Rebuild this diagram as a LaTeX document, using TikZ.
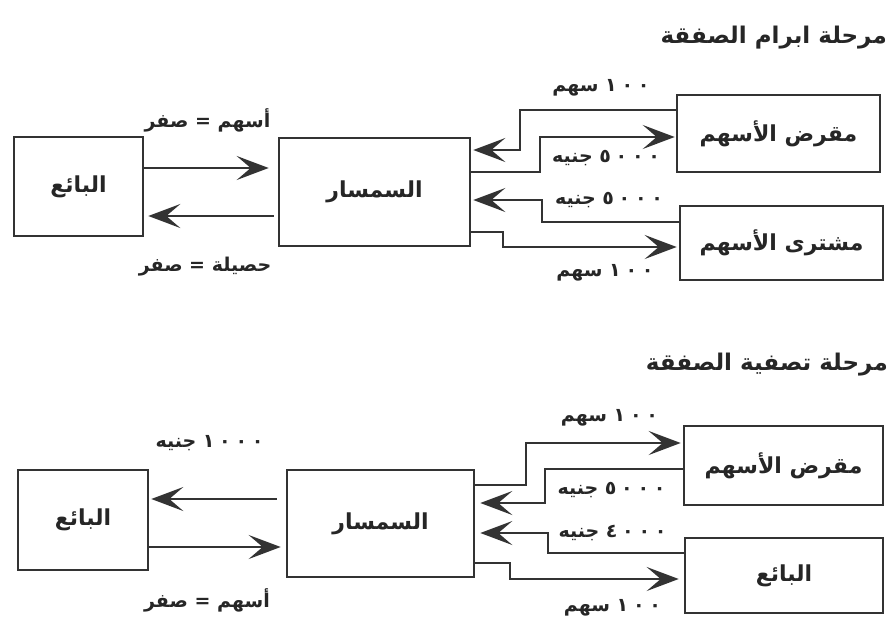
\documentclass[tikz,border=0pt]{standalone}
\usepackage{fontspec}
\TeXXeTstate=1
\newfontfamily\arabicfont[Script=Arabic]{DejaVu Sans}
\usetikzlibrary{arrows.meta}
\definecolor{ink}{HTML}{333333}
\definecolor{txt}{HTML}{262626}
\newcommand{\artxt}[1]{\beginR #1\endR}
\newcommand{\dg}[1]{{\addfontfeature{LetterSpace=25}#1}}
\begin{document}
\begin{tikzpicture}[x=1pt,y=-1pt,
  box/.style={draw=ink, line width=2.6pt, inner sep=0pt, text=txt,
    font=\arabicfont\bfseries\fontsize{22}{26}\selectfont},
  lbl/.style={inner sep=0pt, text=txt, font=\arabicfont\bfseries\fontsize{19}{22}\selectfont},
  ttl/.style={inner sep=0pt, text=txt, anchor=east, font=\arabicfont\bfseries\fontsize{23}{27}\selectfont},
  arr/.style={draw=ink, line width=2.5pt, line join=miter,
    arrows={-Stealth[length=32pt,width=24pt,inset=14pt]}}]
\useasboundingbox (0,0) rectangle (890,618);
\fill[white] (0,0) rectangle (890,618);

% ---------- top: مرحلة ابرام الصفقة ----------
\node[ttl] (t1) at (887,38) {\artxt{مرحلة ابرام الصفقة}};

\node[box, minimum width=129pt, minimum height=99pt] (S1) at (78.5,186.5) {\artxt{البائع}};
\node[box, minimum width=191pt, minimum height=108pt] (B1) at (374.5,192) {\artxt{السمسار}};
\node[box, minimum width=203pt, minimum height=77pt] (L1) at (778.5,133.5) {\artxt{مقرض الأسهم}};
\node[box, minimum width=203pt, minimum height=74pt] (P1) at (781.5,243) {\artxt{مشترى الأسهم}};

\draw[arr, shorten >=9pt] (S1.east |- 0,168) -- (B1.west |- 0,168);
\draw[arr, shorten <=4pt, shorten >=4pt] (B1.west |- 0,216) -- (S1.east |- 0,216);
\draw[arr, shorten >=2pt] (L1.west |- 0,110) -- (520,110) -- (520,150) -- (B1.east |- 0,150);
\draw[arr, shorten >=1pt] (B1.east |- 0,172) -- (540,172) -- (540,137) -- (L1.west |- 0,137);
\draw[arr, shorten >=2pt] (P1.west |- 0,222) -- (542,222) -- (542,200) -- (B1.east |- 0,200);
\draw[arr, shorten >=2pt] (B1.east |- 0,232) -- (503,232) -- (503,247) -- (P1.west |- 0,247);

\node[lbl] (a1) at (207.5,120) {\artxt{أسهم = صفر}};
\node[lbl] (a2) at (205,267) {\artxt{حصيلة = صفر}};
\node[lbl] (a3) at (601,88) {\artxt{\dg{١٠٠} سهم}};
\node[lbl] (a4) at (606,158) {\artxt{\dg{٥٠٠٠} جنيه}};
\node[lbl] (a5) at (609,200) {\artxt{\dg{٥٠٠٠} جنيه}};
\node[lbl] (a6) at (605,273) {\artxt{\dg{١٠٠} سهم}};

% ---------- bottom: مرحلة تصفية الصفقة ----------
\node[ttl] (t2) at (888,365) {\artxt{مرحلة تصفية الصفقة}};

\node[box, minimum width=130pt, minimum height=100pt] (S2) at (83,520) {\artxt{البائع}};
\node[box, minimum width=187pt, minimum height=107pt] (B2) at (380.5,523.5) {\artxt{السمسار}};
\node[box, minimum width=199pt, minimum height=79pt] (L2) at (783.5,465.5) {\artxt{مقرض الأسهم}};
\node[box, minimum width=198pt, minimum height=75pt] (R2) at (784,575.5) {\artxt{البائع}};

\draw[arr, shorten <=9pt, shorten >=2pt] (B2.west |- 0,499) -- (S2.east |- 0,499);
\draw[arr, shorten >=5pt] (S2.east |- 0,547) -- (B2.west |- 0,547);
\draw[arr, shorten >=2pt] (B2.east |- 0,485) -- (526,485) -- (526,443) -- (L2.west |- 0,443);
\draw[arr, shorten >=5pt] (L2.west |- 0,469) -- (545,469) -- (545,503) -- (B2.east |- 0,503);
\draw[arr, shorten >=5pt] (R2.west |- 0,553) -- (548,553) -- (548,533) -- (B2.east |- 0,533);
\draw[arr, shorten >=5pt] (B2.east |- 0,563) -- (510,563) -- (510,579) -- (R2.west |- 0,579);

\node[lbl] (b1) at (209.5,443) {\artxt{\dg{١٠٠٠} جنيه}};
\node[lbl] (b2) at (207,600) {\artxt{أسهم = صفر}};
\node[lbl] (b3) at (609.5,418) {\artxt{\dg{١٠٠} سهم}};
\node[lbl] (b4) at (611.5,490) {\artxt{\dg{٥٠٠٠} جنيه}};
\node[lbl] (b5) at (612.5,533) {\artxt{\dg{٤٠٠٠} جنيه}};
\node[lbl] (b6) at (612.5,608) {\artxt{\dg{١٠٠} سهم}};
\end{tikzpicture}
\end{document}
